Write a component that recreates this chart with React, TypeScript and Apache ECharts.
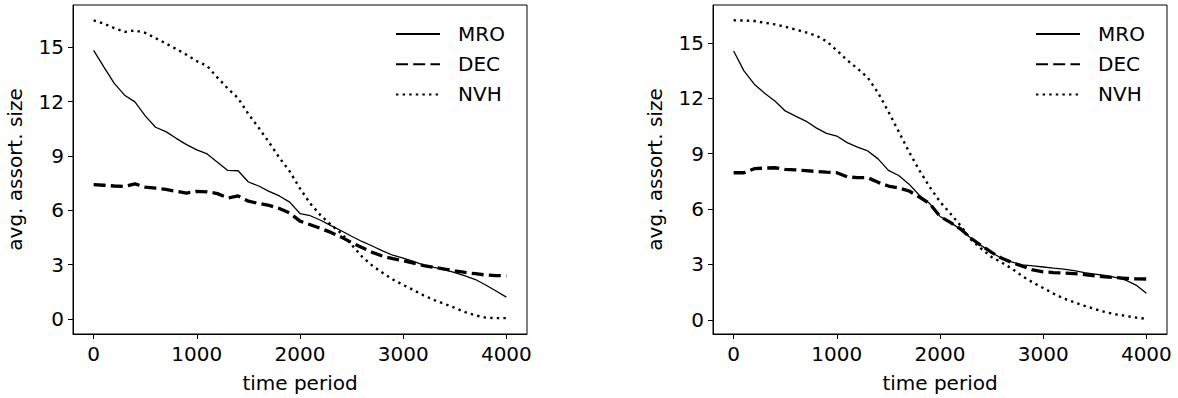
import { useEffect, useRef } from "react";
import * as echarts from "echarts";

const TIME = [
  0, 100, 200, 300, 400, 500, 600, 700, 800, 900, 1000, 1100, 1200, 1300, 1400, 1500, 1600, 1700, 1800, 1900, 2000,
  2100, 2200, 2300, 2400, 2500, 2600, 2700, 2800, 2900, 3000, 3100, 3200, 3300, 3400, 3500, 3600, 3700, 3800, 3900, 4000,
];
const X_TICKS = [0, 1000, 2000, 3000, 4000];
const Y_TICKS = [0, 3, 6, 9, 12, 15];
const SERIES_NAMES = ["MRO", "DEC", "NVH"];

const LEFT_MRO = [
  14.82, 13.9, 13.0, 12.35, 11.98, 11.21, 10.58, 10.34, 9.97, 9.62, 9.33, 9.11, 8.65, 8.2, 8.18, 7.56, 7.34, 7.04, 6.79,
  6.45, 5.82, 5.7, 5.45, 5.15, 4.87, 4.57, 4.28, 4.03, 3.76, 3.52, 3.36, 3.18, 2.98, 2.85, 2.73, 2.56, 2.38, 2.18, 1.88,
  1.55, 1.21,
];
const LEFT_DEC = [
  7.41, 7.38, 7.34, 7.32, 7.46, 7.28, 7.22, 7.15, 7.05, 6.95, 7.04, 7.02, 6.92, 6.68, 6.79, 6.5, 6.38, 6.27, 6.1, 5.85,
  5.4, 5.2, 5.0, 4.78, 4.52, 4.22, 3.95, 3.68, 3.47, 3.33, 3.22, 3.08, 2.95, 2.85, 2.76, 2.66, 2.57, 2.5, 2.43, 2.4,
  2.38,
];
const LEFT_NVH = [
  16.48, 16.3, 16.05, 15.84, 15.92, 15.79, 15.5, 15.2, 14.9, 14.58, 14.23, 13.96, 13.32, 12.72, 12.18, 11.31, 10.55,
  9.75, 8.9, 8.15, 7.2, 6.37, 5.72, 5.2, 4.73, 4.1, 3.45, 2.95, 2.55, 2.18, 1.88, 1.6, 1.3, 1.05, 0.84, 0.62, 0.38, 0.2,
  0.08, 0.05, 0.05,
];

const RIGHT_MRO = [
  14.57, 13.49, 12.77, 12.28, 11.86, 11.32, 11.04, 10.77, 10.4, 10.1, 9.96, 9.6, 9.36, 9.15, 8.72, 8.1, 7.82, 7.35,
  6.75, 6.3, 5.6, 5.28, 4.9, 4.42, 4.02, 3.65, 3.32, 3.12, 2.98, 2.92, 2.86, 2.8, 2.75, 2.66, 2.56, 2.48, 2.4, 2.3, 2.15,
  1.88, 1.44,
];
const RIGHT_DEC = [
  7.97, 7.97, 8.19, 8.22, 8.24, 8.15, 8.12, 8.08, 8.04, 8.0, 7.97, 7.75, 7.7, 7.7, 7.45, 7.25, 7.15, 6.98, 6.65, 6.3,
  5.6, 5.28, 4.92, 4.42, 4.02, 3.65, 3.33, 3.1, 2.9, 2.7, 2.6, 2.56, 2.53, 2.5, 2.45, 2.38, 2.33, 2.29, 2.25, 2.22, 2.21,
];
const RIGHT_NVH = [
  16.23, 16.22, 16.19, 16.1, 16.01, 15.88, 15.73, 15.58, 15.4, 15.1, 14.6, 14.07, 13.62, 13.12, 12.3, 11.28, 10.2, 9.1,
  8.1, 7.2, 6.4, 5.76, 5.1, 4.35, 3.85, 3.4, 3.1, 2.76, 2.36, 2.02, 1.72, 1.42, 1.15, 0.95, 0.76, 0.58, 0.42, 0.3, 0.21,
  0.12, 0.05,
];

const FONT = "DejaVu Sans";

const pairs = (ys: number[]) => TIME.map((t, i) => [t, ys[i]]);

const lineStyles: Record<string, any> = {
  MRO: { color: "#000", width: 1.3, type: "solid" },
  DEC: { color: "#000", width: 3.3, type: [12, 5.2] },
  NVH: { color: "#000", width: 2.4, type: [2.4, 4.2] },
};

export default function App() {
  const ref = useRef<HTMLDivElement>(null);
  useEffect(() => {
    document.body.style.margin = "0";
    const chart = echarts.init(ref.current!, null, { renderer: "svg" });

    const grids = [
      { left: 73, top: 5, width: 454, height: 331 },
      { left: 713, top: 5, width: 454, height: 331 },
    ];
    const yRanges = [
      [-0.825, 17.325],
      [-0.77, 17.06],
    ];
    const data = [
      [LEFT_MRO, LEFT_DEC, LEFT_NVH],
      [RIGHT_MRO, RIGHT_DEC, RIGHT_NVH],
    ];

    const textCommon = { fontSize: 20, color: "#000", fontFamily: FONT };

    const option: any = {
      animation: false,
      backgroundColor: "#fff",
      grid: grids.map((g) => ({ ...g, show: true, borderColor: "#000", borderWidth: 1, backgroundColor: "transparent" })),
      xAxis: grids.map((_, i) => ({
        gridIndex: i,
        type: "value",
        min: -200,
        max: 4200,
        splitLine: { show: false },
        axisLine: { show: true, onZero: false, lineStyle: { color: "#000", width: 1 } },
        axisTick: { show: true, length: 5, customValues: X_TICKS, lineStyle: { color: "#000", width: 1 } },
        axisLabel: { ...textCommon, margin: 10, customValues: X_TICKS, formatter: (v: number) => String(v) },
        name: "time period",
        nameLocation: "middle",
        nameGap: 39,
        nameTextStyle: textCommon,
      })),
      yAxis: grids.map((_, i) => ({
        gridIndex: i,
        type: "value",
        min: yRanges[i][0],
        max: yRanges[i][1],
        splitLine: { show: false },
        axisLine: { show: true, onZero: false, lineStyle: { color: "#000", width: 1 } },
        axisTick: { show: true, length: 5, customValues: Y_TICKS, lineStyle: { color: "#000", width: 1 } },
        axisLabel: { ...textCommon, margin: 9, customValues: Y_TICKS, formatter: (v: number) => String(v) },
        name: "avg. assort. size",
        nameLocation: "middle",
        nameGap: 48,
        nameTextStyle: textCommon,
      })),
      legend: [390, 1030].map((left) => ({
        left,
        top: 19,
        orient: "vertical",
        itemWidth: 44,
        itemHeight: 22,
        itemGap: 10.2,
        selectedMode: false,
        data: SERIES_NAMES,
        itemStyle: { opacity: 0 },
        textStyle: { ...textCommon, padding: [0, 0, 0, 13] },
      })),
      series: data.flatMap((set, gi) =>
        set.map((ys, si) => ({
          name: SERIES_NAMES[si],
          type: "line",
          xAxisIndex: gi,
          yAxisIndex: gi,
          data: pairs(ys),
          showSymbol: false,
          symbol: "none",
          lineStyle: lineStyles[SERIES_NAMES[si]],
          itemStyle: { color: "#000" },
          z: 3 - si,
        })),
      ),
    };
    chart.setOption(option);
    return () => chart.dispose();
  }, []);
  return <div ref={ref} style={{ width: 1178, height: 398 }} />;
}
